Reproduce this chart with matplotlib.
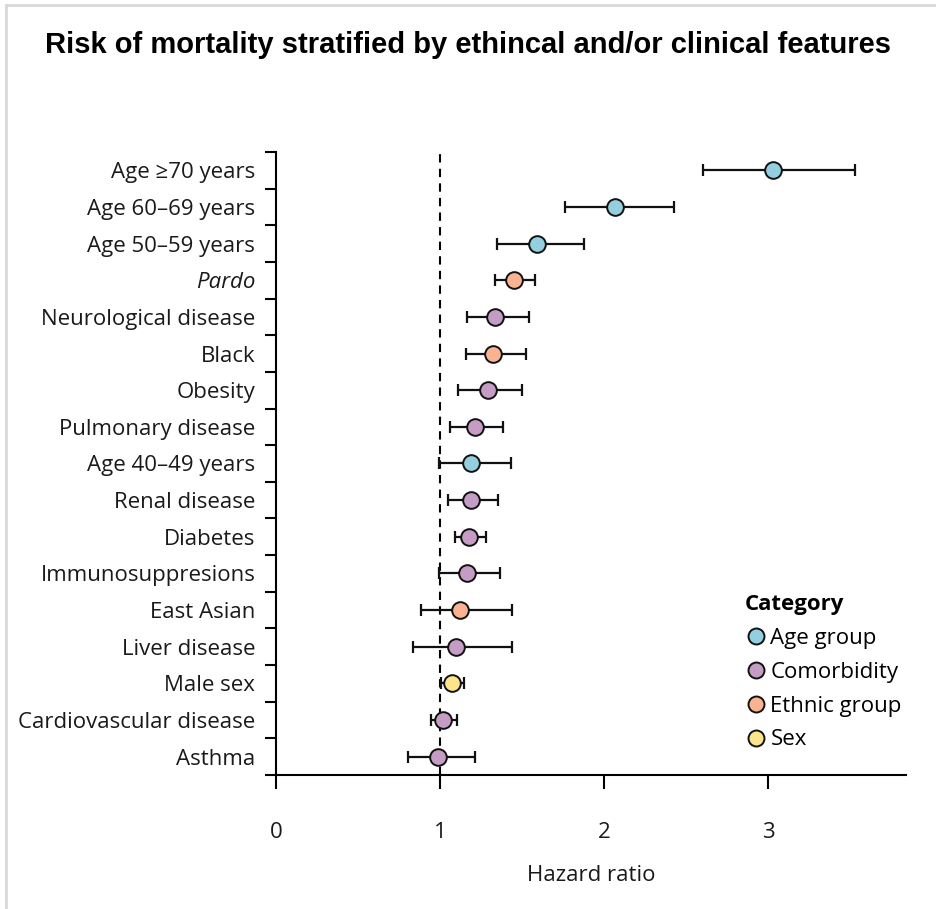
import matplotlib
matplotlib.use("Agg")
import matplotlib.pyplot as plt
from matplotlib.lines import Line2D
import numpy as np

labels = ["Age ≥70 years", "Age 60–69 years", "Age 50–59 years", "Pardo",
          "Neurological disease", "Black", "Obesity", "Pulmonary disease",
          "Age 40–49 years", "Renal disease", "Diabetes", "Immunosuppresions",
          "East Asian", "Liver disease", "Male sex", "Cardiovascular disease",
          "Asthma"]
hr = [3.03, 2.065, 1.59, 1.45, 1.335, 1.325, 1.29, 1.21, 1.19, 1.19, 1.178,
      1.165, 1.123, 1.095, 1.073, 1.02, 0.988]
lo = [2.60, 1.76, 1.345, 1.333, 1.163, 1.155, 1.108, 1.063, 0.995, 1.048,
      1.093, 0.995, 0.883, 0.833, 1.003, 0.945, 0.803]
hi = [3.53, 2.425, 1.878, 1.58, 1.54, 1.525, 1.50, 1.38, 1.43, 1.355, 1.278,
      1.363, 1.44, 1.44, 1.148, 1.103, 1.213]
category = ["Age group", "Age group", "Age group", "Ethnic group",
            "Comorbidity", "Ethnic group", "Comorbidity", "Comorbidity",
            "Age group", "Comorbidity", "Comorbidity", "Comorbidity",
            "Ethnic group", "Comorbidity", "Sex", "Comorbidity", "Comorbidity"]
cat_names = ["Age group", "Comorbidity", "Ethnic group", "Sex"]
cat_colors = ["#92D0E0", "#C49CC4", "#F9B393", "#FBE48C"]
x_ticks = [0, 1, 2, 3]

FONT = "Open Sans"
FS = 16
fig = plt.figure(figsize=(9.36, 9.09), dpi=100)
ax = fig.add_axes([0.295, 0.1474, 0.673, 0.6854])

n = len(labels)
ypos = np.arange(n)[::-1]
cmap = dict(zip(cat_names, cat_colors))

ax.axvline(1, color="black", linestyle=(0, (4, 3)), linewidth=1.5, zorder=1)
for i in range(n):
    ax.errorbar(hr[i], ypos[i], xerr=[[hr[i] - lo[i]], [hi[i] - hr[i]]],
                fmt="none", ecolor="#111111", elinewidth=1.6, capsize=4,
                capthick=1.6, zorder=2)
    ax.plot(hr[i], ypos[i], "o", markersize=12, markerfacecolor=cmap[category[i]],
            markeredgecolor="#111111", markeredgewidth=1.4, zorder=3)

ax.set_ylim(-0.5, n - 0.5)
ax.set_xlim(0, 3.84)
ax.set_yticks(ypos)
ax.set_yticklabels(labels, fontsize=FS, family=FONT, color="#1a1a1a")
for t, lab in zip(ax.get_yticklabels(), labels):
    if lab == "Pardo":
        t.set_style("italic")
ax.set_yticks(np.arange(-0.5, n, 1.0), minor=True)
ax.tick_params(axis="y", which="major", length=0, pad=15)
ax.tick_params(axis="y", which="minor", length=8, width=1.5, direction="out")
ax.set_xticks(x_ticks)
ax.set_xticklabels([str(v) for v in x_ticks], fontsize=FS, family=FONT, color="#1a1a1a")
ax.tick_params(axis="x", length=10, width=1.5, pad=24, direction="out")
ax.set_xlabel("Hazard ratio", fontsize=FS, family=FONT, color="#1a1a1a", labelpad=16)

for s in ["top", "right"]:
    ax.spines[s].set_visible(False)
for s in ["left", "bottom"]:
    ax.spines[s].set_linewidth(1.5)

handles = [Line2D([], [], marker="o", linestyle="none", markersize=11.5,
                  markerfacecolor=c, markeredgecolor="#111111", markeredgewidth=1.4)
           for c in cat_colors]
leg = ax.legend(handles, cat_names, title="Category", loc="upper left",
                bbox_to_anchor=(0.73, 0.305), frameon=False,
                prop={"family": FONT, "size": FS}, handletextpad=0.15,
                handlelength=1.0, labelspacing=0.58, borderaxespad=0)
leg.get_title().set_fontproperties({"family": FONT, "size": FS, "weight": "bold"})
leg._legend_box.align = "left"

fig.text(0.5, 0.951, "Risk of mortality stratified by ethincal and/or clinical features",
         ha="center", va="center", fontsize=21, fontweight="bold",
         family="Liberation Sans")

fig.add_artist(Line2D([0.006, 0.006], [0, 0.995], transform=fig.transFigure,
                      color="#d8d8d8", linewidth=2))
fig.add_artist(Line2D([0.006, 1], [0.995, 0.995], transform=fig.transFigure,
                      color="#d8d8d8", linewidth=2))

fig.savefig("out.png", dpi=100)
